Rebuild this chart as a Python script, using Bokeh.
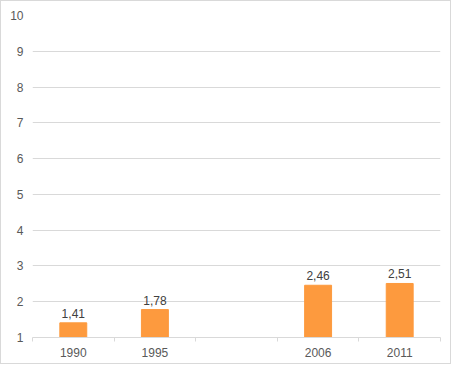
from bokeh.plotting import figure
from bokeh.models import Range1d, FixedTicker, ColumnDataSource
from bokeh.embed import file_html
from bokeh.resources import INLINE
from bokeh.core.properties import value

categories = ["1990", "1995", "", "2006", "2011"]
values = [1.41, 1.78, None, 2.46, 2.51]
value_labels = ["1,41", "1,78", "", "2,46", "2,51"]
y_ticks = [1, 2, 3, 4, 5, 6, 7, 8, 9, 10]

xs, tops, labs = [], [], []
for i, (c, v, l) in enumerate(zip(categories, values, value_labels)):
    if v is not None:
        xs.append(i + 0.5)
        tops.append(v)
        labs.append(l)
src = ColumnDataSource(dict(x=xs, top=tops, lab=labs))

p = figure(width=451, height=364, output_backend="svg", toolbar_location=None,
           x_range=Range1d(0, len(categories)), y_range=Range1d(1, 10),
           min_border_left=31, min_border_right=12, min_border_top=14, min_border_bottom=28)
p.styles = {"border": "1px solid #d9d9d9"}
p.outline_line_color = None
p.background_fill_color = "white"
p.border_fill_color = "white"

p.vbar(x="x", top="top", bottom=1, width=0.33, source=src, color="#fd9a3e")
p.text(x="x", y="top", text="lab", source=src, text_align="center", text_baseline="bottom",
       y_offset=-5, text_font=value("Liberation Sans"), text_font_size="12px", text_color="#404040")

# x axis
xa = p.xaxis[0]
xa.ticker = FixedTicker(ticks=[i + 0.5 for i in range(len(categories))],
                        minor_ticks=list(range(len(categories) + 1)))
xa.major_label_overrides = {i + 0.5: c for i, c in enumerate(categories)}
xa.major_tick_out = 0
xa.major_tick_in = 0
xa.minor_tick_out = 4
xa.minor_tick_in = 0
xa.minor_tick_line_color = "#d9d9d9"
xa.axis_line_color = "#d9d9d9"
xa.major_label_text_font = "Liberation Sans"
xa.major_label_text_font_size = "12px"
xa.major_label_text_color = "#595959"
xa.major_label_standoff = 6

ya = p.yaxis[0]
ya.ticker = FixedTicker(ticks=y_ticks)
ya.axis_line_color = None
ya.major_tick_line_color = None
ya.minor_tick_line_color = None
ya.major_tick_out = 0
ya.major_label_standoff = 9
ya.major_label_text_font = "Liberation Sans"
ya.major_label_text_font_size = "12px"
ya.major_label_text_color = "#595959"

p.xgrid.grid_line_color = None
p.ygrid.grid_line_color = "#d9d9d9"
p.ygrid.ticker = FixedTicker(ticks=y_ticks)

open("out.html", "w").write(file_html(p, INLINE))
